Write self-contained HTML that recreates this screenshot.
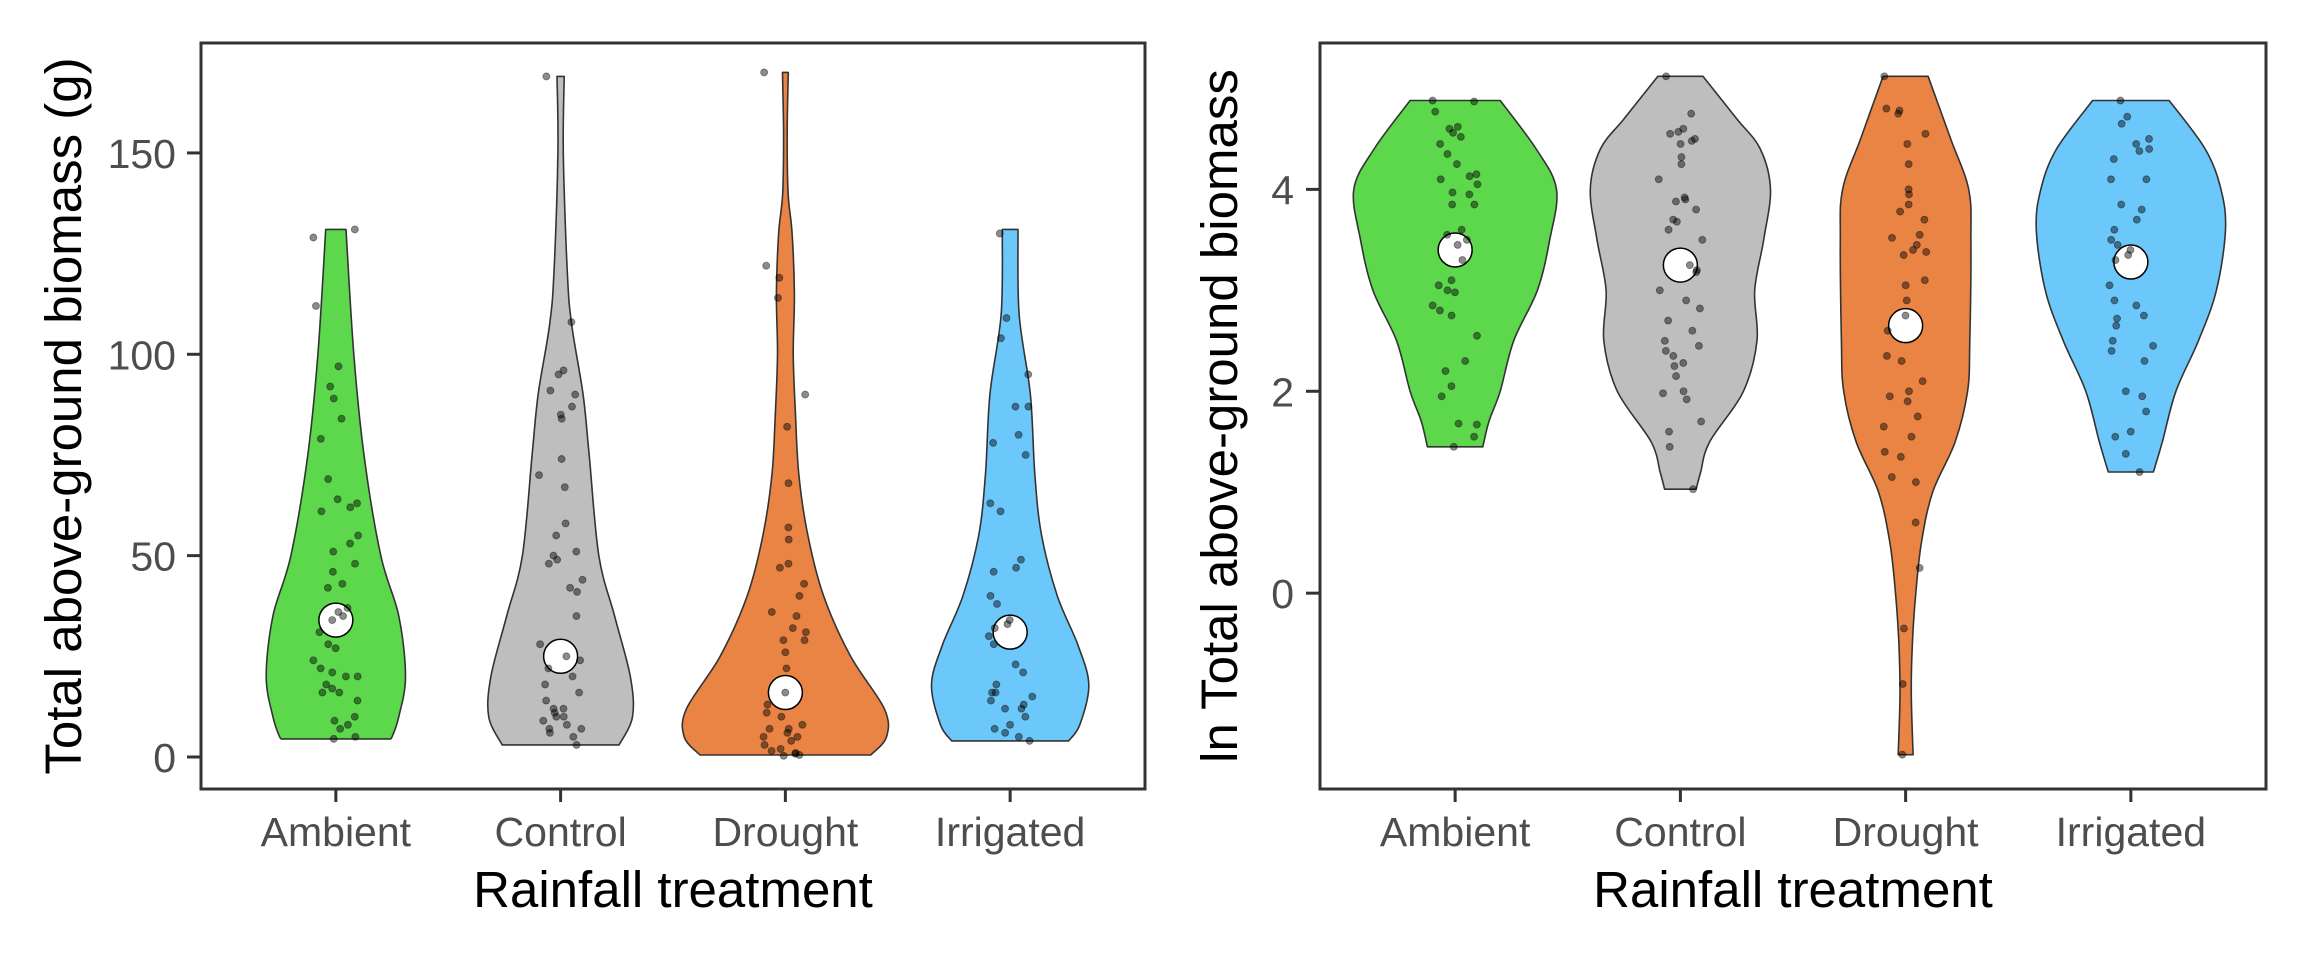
<!DOCTYPE html>
<html><head><meta charset="utf-8"><style>
html,body{margin:0;padding:0;background:#fff;}
svg{display:block;font-family:"Liberation Sans",Arial,sans-serif;}
</style></head><body>
<svg id="chart" width="2304" height="960" viewBox="0 0 2304 960"></svg>
<script>
const categories=["Ambient","Control","Drought","Irrigated"];
const colors=["#5dd84d","#bebebe","#e98444","#6cc8fb"];
// Left panel: raw biomass
const rawTicks=[0,50,100,150];
const rawMeans=[34,25,16,31];
const rawViolinY=[
 [4.5,5,10,20,35,50,75,100,131],
 [3,10,20,35,50,75,90,107,120,150,169],
 [0.5,5,12,25,40,55,70,85,100,115,130,140,155,170],
 [4,8,18,28,40,55,70,90,110,131]];
const rawViolinW=[
 [0.235,0.25,0.28,0.31,0.28,0.2,0.125,0.08,0.045],
 [0.26,0.32,0.31,0.24,0.17,0.127,0.1,0.05,0.03,0.012,0.016],
 [0.38,0.45,0.44,0.29,0.17,0.1,0.06,0.045,0.035,0.04,0.03,0.012,0.008,0.013],
 [0.26,0.31,0.35,0.3,0.21,0.14,0.11,0.09,0.04,0.035]];
const rawPoints=[
 [129,131,112,97,92,89,84,79,69,64,63,62,61,55,53,51,48,46,43,42,37,36,35,34,31,28,27,24,22,21,20,20,18,17,16,16,14,10,9,8,7,5,4.5],
 [169,108,96,95,91,90,87,85,84,74,70,67,58,55,51,50,49,48,44,42,41,35,28,25,24,22,20,18,16,14,12,12,11,10,10,9,8,7,7,6,5,3],
 [170,122,119,114,90,82,68,57,54,48,47,43,40,36,35,32,31,29,29,26,22,16,13,11,10,8,7,7,6,5,5,4,3,2,1.5,1,0.8,0.5,0.3],
 [130,109,104,95,87,87,80,78,75,63,61,49,47,46,40,38,34,33,32,30,28,23,21,18,16,16,15,14,13,12,12,10,8,7,6,5,4]];
// Right panel: ln biomass
const logTicks=[0,2,4];
const logMeans=[3.4,3.25,2.65,3.28];
const logViolinY=[
 [1.45,1.7,2.0,2.5,3.0,3.5,4.0,4.4,4.88],
 [1.03,1.2,1.5,2.0,2.5,3.0,3.5,4.0,4.4,4.7,5.12],
 [-1.6,-1.0,-0.5,0,0.5,1.0,1.5,2.0,2.5,3.5,4.0,4.5,5.12],
 [1.2,1.5,2.0,2.5,3.0,3.6,4.0,4.4,4.88]];
const logViolinW=[
 [0.123,0.15,0.2,0.26,0.365,0.42,0.45,0.36,0.2],
 [0.07,0.09,0.13,0.28,0.34,0.33,0.37,0.4,0.355,0.25,0.1],
 [0.033,0.025,0.03,0.045,0.07,0.12,0.22,0.275,0.285,0.29,0.28,0.2,0.1],
 [0.1,0.14,0.2,0.3,0.38,0.42,0.4,0.33,0.17]];
const logPoints=[
 [4.88,4.87,4.77,4.62,4.6,4.56,4.52,4.45,4.35,4.25,4.15,4.13,4.1,4.05,3.95,3.97,3.85,3.85,3.6,3.55,3.5,3.45,3.3,3.1,3.05,3.0,2.98,2.85,2.8,2.75,2.55,2.3,2.2,2.05,1.95,1.68,1.67,1.55,1.45],
 [5.12,4.75,4.6,4.57,4.55,4.5,4.48,4.45,4.32,4.25,4.1,3.92,3.9,3.88,3.8,3.7,3.68,3.6,3.5,3.25,3.2,3.18,3.0,2.9,2.82,2.7,2.6,2.5,2.45,2.4,2.35,2.28,2.25,2.15,2.0,1.98,1.92,1.7,1.6,1.45,1.03],
 [5.12,4.8,4.78,4.75,4.55,4.45,4.25,4.0,3.95,3.85,3.78,3.7,3.55,3.52,3.45,3.4,3.38,3.35,3.1,3.05,2.9,2.75,2.6,2.35,2.3,2.1,2.0,1.95,1.9,1.75,1.65,1.55,1.4,1.35,1.15,1.1,0.7,0.25,-0.35,-0.9,-1.6],
 [4.88,4.72,4.65,4.5,4.45,4.4,4.38,4.3,4.1,4.1,3.85,3.8,3.7,3.6,3.5,3.45,3.4,3.35,3.3,3.05,2.9,2.85,2.75,2.72,2.65,2.5,2.45,2.4,2.3,2.0,1.95,1.8,1.6,1.55,1.38,1.2]];

const NS="http://www.w3.org/2000/svg";
const svg=document.getElementById('chart');
function mk(tag,attrs,parent){const e=document.createElementNS(NS,tag);for(const k in attrs)e.setAttribute(k,attrs[k]);(parent||svg).appendChild(e);return e;}
function jit(i,g){const s=Math.sin(i*12.9898+g*78.233)*43758.5453;return (s-Math.floor(s))*0.2-0.1;}
function smooth(P){ // catmull-rom through points, returns segment string continuing from P[0]
  let d='';
  for(let i=0;i<P.length-1;i++){
    const p0=P[Math.max(0,i-1)],p1=P[i],p2=P[i+1],p3=P[Math.min(P.length-1,i+2)];
    const c1=[p1[0]+(p2[0]-p0[0])/6,p1[1]+(p2[1]-p0[1])/6];
    const c2=[p2[0]-(p3[0]-p1[0])/6,p2[1]-(p3[1]-p1[1])/6];
    d+='C'+c1[0].toFixed(1)+','+c1[1].toFixed(1)+' '+c2[0].toFixed(1)+','+c2[1].toFixed(1)+' '+p2[0].toFixed(1)+','+p2[1].toFixed(1);
  }
  return d;
}

function panel(opt){
  const {x0,x1,y0,y1,yMin,yMax,ticks,vy,vw,pts,means,yTitle,labelX,titleX,name}=opt;
  const g=mk('g',{});
  
  
  const sy=v=>y1-(v-yMin)/(yMax-yMin)*(y1-y0);
  const unit=(x1-x0)/4.2;
  const sx=c=>x0+(c+0.6)*unit;
  categories.forEach((cat,c)=>{
    const cx=sx(c);
    const ys=vy[c],ws=vw[c];
    const R=ys.map((y,i)=>[cx+ws[i]*unit,sy(y)]);
    const L=ys.map((y,i)=>[cx-ws[i]*unit,sy(y)]).reverse();
    let d='M'+R[0][0].toFixed(1)+','+R[0][1].toFixed(1)+smooth(R)+'L'+L[0][0].toFixed(1)+','+L[0][1].toFixed(1)+smooth(L)+'Z';
    const v=mk('path',{d:d,fill:colors[c],stroke:'#333','stroke-width':1.6,'stroke-linejoin':'round'},g);
    
    
    const m=mk('circle',{cx:cx,cy:sy(means[c]),r:17,fill:'#fff',stroke:'#000','stroke-width':1.5},g);
    
    
    pts[c].forEach((p,i)=>{
      const pt=mk('circle',{cx:cx+jit(i,c)*unit,cy:sy(p),r:3.5,fill:'#000','fill-opacity':0.45,stroke:'#000','stroke-opacity':0.4,'stroke-width':0.9},g);
      
      
    });
    const tk=mk('line',{x1:cx,x2:cx,y1:y1,y2:y1+13,stroke:'#333','stroke-width':3},g);
    
    
    const tl=mk('text',{x:cx,y:846,'text-anchor':'middle','font-size':41,fill:'#4d4d4d'},g);
    tl.textContent=cat;
    
    
  });
  ticks.forEach(t=>{
    const y=sy(t);
    const tk=mk('line',{x1:x0-14,x2:x0,y1:y,y2:y,stroke:'#333','stroke-width':3},g);
    
    
    const tl=mk('text',{x:labelX,y:y+15,'text-anchor':'end','font-size':41,fill:'#4d4d4d'},g);
    tl.textContent=t;
    
    
  });
  const box=mk('rect',{x:x0,y:y0,width:x1-x0,height:y1-y0,fill:'none',stroke:'#333','stroke-width':3},g);
  
  
  const xt=mk('text',{x:(x0+x1)/2,y:907,'text-anchor':'middle','font-size':51,fill:'#000'},g);
  xt.textContent='Rainfall treatment';
  
  
  const yc=(y0+y1)/2;
  const yt=mk('text',{x:titleX,y:yc,'text-anchor':'middle','font-size':51,fill:'#000',transform:'rotate(-90 '+titleX+' '+yc+')'},g);
  yt.textContent=yTitle;
  
  
}
panel({name:'raw-biomass-panel',x0:201,x1:1145,y0:43,y1:789,yMin:-7.95,yMax:177.3,ticks:rawTicks,vy:rawViolinY,vw:rawViolinW,pts:rawPoints,means:rawMeans,yTitle:'Total above-ground biomass (g)',labelX:176,titleX:81});
panel({name:'log-biomass-panel',x0:1320,x1:2266,y0:43,y1:789,yMin:-1.94,yMax:5.45,ticks:logTicks,vy:logViolinY,vw:logViolinW,pts:logPoints,means:logMeans,yTitle:'ln Total above-ground biomass',labelX:1294,titleX:1237});
</script>
</body></html>
